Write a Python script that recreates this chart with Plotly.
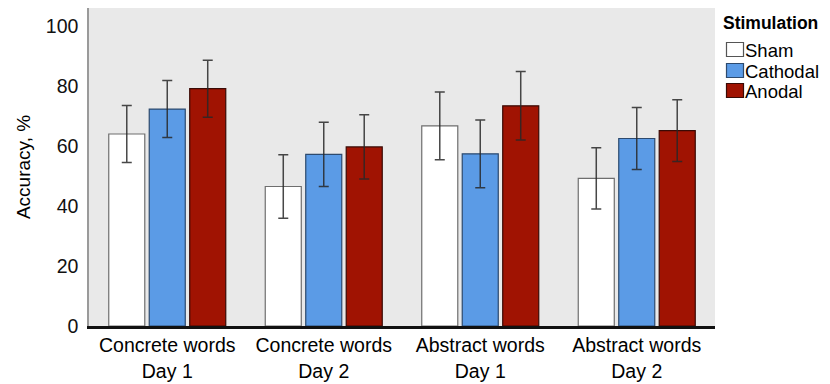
import plotly.graph_objects as go

categories = ["Concrete words<br>Day 1", "Concrete words<br>Day 2",
              "Abstract words<br>Day 1", "Abstract words<br>Day 2"]
series_names = ["Sham", "Cathodal", "Anodal"]
sham = [64.0, 46.5, 66.7, 49.2]
cathodal = [72.3, 57.2, 57.4, 62.5]
anodal = [79.1, 59.7, 73.4, 65.1]
sham_err = [9.5, 10.6, 11.3, 10.2]
cathodal_err = [9.5, 10.7, 11.3, 10.3]
anodal_err = [9.5, 10.7, 11.4, 10.3]
y_ticks = [0, 20, 40, 60, 80, 100]

values = [sham, cathodal, anodal]
errors = [sham_err, cathodal_err, anodal_err]
fills = ["#ffffff", "#5b9be6", "#a01302"]
lines = ["#6e6e6e", "#2d4a6e", "#3a0a05"]

FONT = "Liberation Sans, Arial, sans-serif"

fig = go.Figure()
for name, v, e, fc, lc in zip(series_names, values, errors, fills, lines):
    fig.add_trace(go.Bar(
        name=name, x=categories, y=v,
        marker=dict(color=fc, line=dict(color=lc, width=1.2)),
        error_y=dict(type="data", array=e, visible=True,
                     color="rgba(40,40,40,0.85)", thickness=1.5, width=5),
        showlegend=False,
    ))

# page body has an 8px margin; target positions are in window pixels
OFF = 8
W, H = 830 - OFF, 384 - OFF
PL, PR, PT, PB = 89, 715, 8, 326  # plot area in window pixels
L = PL - OFF
T = PT - OFF
R = W - (PR - OFF)
B = H - (PB - OFF)
pw = PR - PL
ph = PB - PT


def px_x(px):
    return (px - PL) / pw


def px_y(py):
    return (PB - py) / ph


shapes = []
annotations = []
# legend
annotations.append(dict(text="<b>Stimulation</b>", x=px_x(721), y=px_y(23),
                        xref="paper", yref="paper", xanchor="left", yanchor="middle",
                        showarrow=False, font=dict(family=FONT, size=17.5, color="#000")))
rows = [49.5, 70.5, 90.5]
for name, fc, lc, cy in zip(series_names, fills, lines, rows):
    shapes.append(dict(type="rect", xref="paper", yref="paper",
                       x0=px_x(726.5), x1=px_x(743.5), y0=px_y(cy - 7), y1=px_y(cy + 7),
                       fillcolor=fc, line=dict(color=lc if name != "Sham" else "#555", width=1.2)))
    annotations.append(dict(text=name, x=px_x(742.5), y=px_y(cy + 1),
                            xref="paper", yref="paper", xanchor="left", yanchor="middle",
                            showarrow=False, font=dict(family=FONT, size=18.5, color="#000")))

fig.update_layout(
    width=W, height=H,
    margin=dict(l=L, r=R, t=T, b=B, pad=0, autoexpand=False),
    paper_bgcolor="white",
    plot_bgcolor="#e9e9e9",
    barmode="group",
    bargap=0.224,
    bargroupgap=0.11,
    font=dict(family=FONT, color="#000"),
    shapes=shapes,
    annotations=annotations,
    xaxis=dict(
        showgrid=False, showline=True, linecolor="#111", linewidth=2.5,
        ticks="", tickfont=dict(family=FONT, size=19.5, color="#000"),
        range=[-0.5, 3.5], zeroline=False, automargin=False,
    ),
    yaxis=dict(
        range=[0, 106], tickvals=y_ticks, showgrid=False, zeroline=False,
        showline=True, linecolor="#9a9a9a", linewidth=1.5, ticks="",
        tickfont=dict(family=FONT, size=19.5, color="#111"),
        ticklabelstandoff=5, automargin=False,
        title=dict(text="Accuracy, %", font=dict(family=FONT, size=19, color="#000"),
                   standoff=10),
    ),
)

fig.write_html("out.html")
